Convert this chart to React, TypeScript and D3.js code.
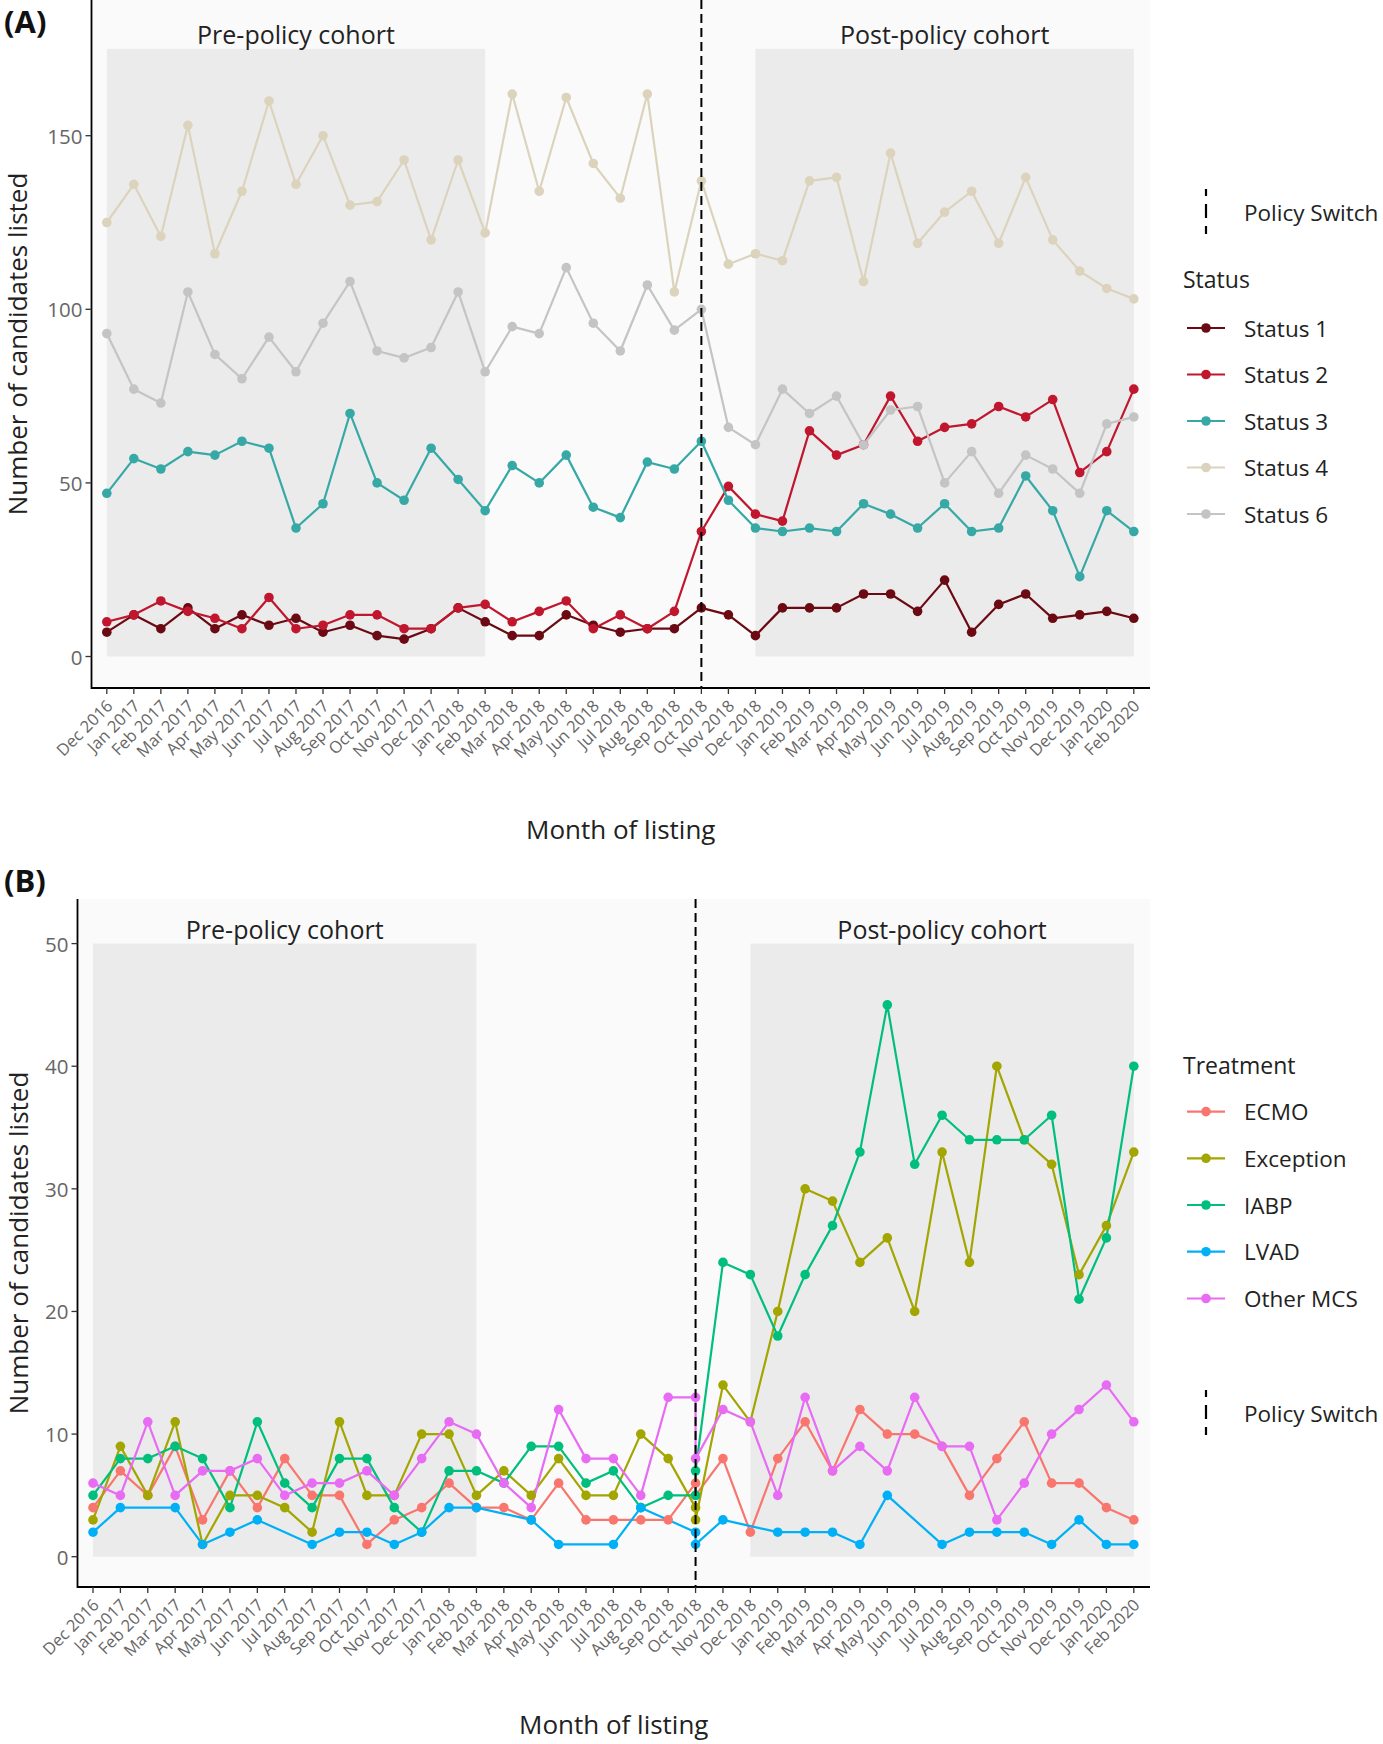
import React from "react";
import * as d3 from "d3";

// ---------------- DATA ----------------
const months = [
  "Dec 2016",
  "Jan 2017", "Feb 2017", "Mar 2017", "Apr 2017", "May 2017", "Jun 2017",
  "Jul 2017", "Aug 2017", "Sep 2017", "Oct 2017", "Nov 2017", "Dec 2017",
  "Jan 2018", "Feb 2018", "Mar 2018", "Apr 2018", "May 2018", "Jun 2018",
  "Jul 2018", "Aug 2018", "Sep 2018", "Oct 2018", "Nov 2018", "Dec 2018",
  "Jan 2019", "Feb 2019", "Mar 2019", "Apr 2019", "May 2019", "Jun 2019",
  "Jul 2019", "Aug 2019", "Sep 2019", "Oct 2019", "Nov 2019", "Dec 2019",
  "Jan 2020", "Feb 2020",
];
const policyMonth = "Oct 2018";
const preCohort = ["Dec 2016", "Feb 2018"];
const postCohort = ["Dec 2018", "Feb 2020"];

// Panel A (status)
const statusNames = ["Status 1", "Status 2", "Status 3", "Status 4", "Status 6"];
const statusColors = ["#6b0a12", "#c0172e", "#36a9a6", "#dcd3bd", "#c4c4c4"];
const status1 = [7, 12, 8, 14, 8, 12, 9, 11, 7, 9, 6, 5, 8, 14, 10, 6, 6, 12, 9, 7, 8, 8, 14, 12, 6, 14, 14, 14, 18, 18, 13, 22, 7, 15, 18, 11, 12, 13, 11];
const status2 = [10, 12, 16, 13, 11, 8, 17, 8, 9, 12, 12, 8, 8, 14, 15, 10, 13, 16, 8, 12, 8, 13, 36, 49, 41, 39, 65, 58, 61, 75, 62, 66, 67, 72, 69, 74, 53, 59, 77];
const status3 = [47, 57, 54, 59, 58, 62, 60, 37, 44, 70, 50, 45, 60, 51, 42, 55, 50, 58, 43, 40, 56, 54, 62, 45, 37, 36, 37, 36, 44, 41, 37, 44, 36, 37, 52, 42, 23, 42, 36];
const status4 = [125, 136, 121, 153, 116, 134, 160, 136, 150, 130, 131, 143, 120, 143, 122, 162, 134, 161, 142, 132, 162, 105, 137, 113, 116, 114, 137, 138, 108, 145, 119, 128, 134, 119, 138, 120, 111, 106, 103];
const status6 = [93, 77, 73, 105, 87, 80, 92, 82, 96, 108, 88, 86, 89, 105, 82, 95, 93, 112, 96, 88, 107, 94, 100, 66, 61, 77, 70, 75, 61, 71, 72, 50, 59, 47, 58, 54, 47, 67, 69];
const statusTicks = [0, 50, 100, 150];
const statusCohortTop = 175;

// Panel B (treatment) — pre cohort: Dec 2016..Oct 2018, post cohort: Oct 2018..Feb 2020
const treatNames = ["ECMO", "Exception", "IABP", "LVAD", "Other MCS"];
const treatColors = ["#F8766D", "#A3A500", "#00BF7D", "#00B0F6", "#E76BF3"];
const ecmoPre = [4, 7, 5, 9, 3, 7, 4, 8, 5, 5, 1, 3, 4, 6, 4, 4, 3, 6, 3, 3, 3, 3, 6];
const ecmoPost = [5, 8, 2, 8, 11, 7, 12, 10, 10, 9, 5, 8, 11, 6, 6, 4, 3];
const exceptionPre = [3, 9, 5, 11, 1, 5, 5, 4, 2, 11, 5, 5, 10, 10, 5, 7, 5, 8, 5, 5, 10, 8, 4];
const exceptionPost = [3, 14, 11, 20, 30, 29, 24, 26, 20, 33, 24, 40, 34, 32, 23, 27, 33];
const iabpPre = [5, 8, 8, 9, 8, 4, 11, 6, 4, 8, 8, 4, 2, 7, 7, 6, 9, 9, 6, 7, 4, 5, 5];
const iabpPost = [7, 24, 23, 18, 23, 27, 33, 45, 32, 36, 34, 34, 34, 36, 21, 26, 40];
const lvadPre = [2, 4, null, 4, 1, 2, 3, null, 1, 2, 2, 1, 2, 4, 4, null, 3, 1, null, 1, 4, null, 2];
const lvadPost = [1, 3, null, 2, 2, 2, 1, 5, null, 1, 2, 2, 2, 1, 3, 1, 1];
const otherPre = [6, 5, 11, 5, 7, 7, 8, 5, 6, 6, 7, 5, 8, 11, 10, 6, 4, 12, 8, 8, 5, 13, 13];
const otherPost = [8, 12, 11, 5, 13, 7, 9, 7, 13, 9, 9, 3, 6, 10, 12, 14, 11];
const treatTicks = [0, 10, 20, 30, 40, 50];
const treatCohortTop = 50;

// ---------------- HELPERS ----------------
type Pt = { i: number; v: number };
type Series = { name: string; color: string; pts: Pt[] };

function toPts(vals: (number | null)[], start: number): Pt[] {
  const out: Pt[] = [];
  vals.forEach((v, k) => {
    if (v !== null && v !== undefined) out.push({ i: start + k, v });
  });
  return out;
}

const FONT = "'Open Sans', 'Noto Sans', sans-serif";
const policyIdx = months.indexOf(policyMonth);

const statusSeries: Series[] = [status1, status2, status3, status4, status6].map((arr, k) => ({
  name: statusNames[k],
  color: statusColors[k],
  pts: toPts(arr, 0),
}));

const treatSeries: Series[] = [
  [ecmoPre, ecmoPost],
  [exceptionPre, exceptionPost],
  [iabpPre, iabpPost],
  [lvadPre, lvadPost],
  [otherPre, otherPost],
].map(([pre, post], k) => ({
  name: treatNames[k],
  color: treatColors[k],
  pts: [...toPts(pre, 0), ...toPts(post, policyIdx)],
}));

type Cfg = {
  left: number; right: number; top: number; bottom: number;
  xFirst: number; xLast: number;
  yZeroPx: number; yRefVal: number; yRefPx: number;
  ticks: number[]; cohortTop: number;
  series: Series[];
  tag: string; tagY: number;
  titleX: number;
  legendTitle: string; legendTitleY: number; legendItemYs: number[];
  policyY: number;
  xTitleY: number;
};

function Legend({ cfg }: { cfg: Cfg }) {
  const lx0 = 1187, lx1 = 1225, lc = 1206, tx = 1244;
  return (
    <g fontFamily={FONT}>
      <line x1={lc} x2={lc} y1={cfg.policyY - 23} y2={cfg.policyY + 22} stroke="#000" strokeWidth={2.2}
        strokeDasharray="7,8,14,8,8" />
      <text x={tx} y={cfg.policyY} dominantBaseline="central" fontSize={22.5} fill="#222">Policy Switch</text>
      <text x={1183} y={cfg.legendTitleY} dominantBaseline="central" fontSize={23} fill="#222">{cfg.legendTitle}</text>
      {cfg.series.map((s, k) => (
        <g key={s.name}>
          <line x1={lx0} x2={lx1} y1={cfg.legendItemYs[k]} y2={cfg.legendItemYs[k]} stroke={s.color} strokeWidth={2.2} />
          <circle cx={lc} cy={cfg.legendItemYs[k]} r={4.8} fill={s.color} />
          <text x={tx} y={cfg.legendItemYs[k]} dominantBaseline="central" fontSize={22.5} fill="#222">{s.name}</text>
        </g>
      ))}
    </g>
  );
}

function Panel({ cfg }: { cfg: Cfg }) {
  const x = d3.scalePoint<string>().domain(months).range([cfg.xFirst, cfg.xLast]);
  const y = d3.scaleLinear().domain([0, cfg.yRefVal]).range([cfg.yZeroPx, cfg.yRefPx]);
  const line = d3.line<Pt>().x((p) => x(months[p.i]) as number).y((p) => y(p.v));
  const px = (m: string) => x(m) as number;
  const preX0 = px(preCohort[0]), preX1 = px(preCohort[1]);
  const postX0 = px(postCohort[0]), postX1 = px(postCohort[1]);
  const rTop = y(cfg.cohortTop), rBot = y(0);
  const midY = (cfg.top + cfg.bottom) / 2;
  const midX = (cfg.left + cfg.right) / 2;
  return (
    <g>
      <rect x={cfg.left} y={cfg.top} width={cfg.right - cfg.left} height={cfg.bottom - cfg.top} fill="#fafafa" />
      <rect x={preX0} y={rTop} width={preX1 - preX0} height={rBot - rTop} fill="#ebebeb" />
      <rect x={postX0} y={rTop} width={postX1 - postX0} height={rBot - rTop} fill="#ebebeb" />
      <text x={(preX0 + preX1) / 2} y={rTop - 5} textAnchor="middle" fontFamily={FONT} fontSize={25} fill="#222">Pre-policy cohort</text>
      <text x={(postX0 + postX1) / 2} y={rTop - 5} textAnchor="middle" fontFamily={FONT} fontSize={25} fill="#222">Post-policy cohort</text>
      {cfg.series.map((s) => (
        <path key={s.name} d={line(s.pts) as string} fill="none" stroke={s.color} strokeWidth={2.2} strokeLinejoin="round" />
      ))}
      {cfg.series.map((s) => (
        <g key={s.name + "p"} fill={s.color}>
          {s.pts.map((p, k) => (
            <circle key={k} cx={px(months[p.i])} cy={y(p.v)} r={4.8} />
          ))}
        </g>
      ))}
      <line x1={px(policyMonth)} x2={px(policyMonth)} y1={cfg.top} y2={cfg.bottom} stroke="#000" strokeWidth={2} strokeDasharray="9,5" />
      {/* axes */}
      <line x1={cfg.left} x2={cfg.left} y1={cfg.top} y2={cfg.bottom + 0.9} stroke="#000" strokeWidth={1.8} />
      <line x1={cfg.left} x2={cfg.right} y1={cfg.bottom} y2={cfg.bottom} stroke="#000" strokeWidth={1.8} />
      {cfg.ticks.map((t) => (
        <g key={t}>
          <line x1={cfg.left - 6} x2={cfg.left} y1={y(t)} y2={y(t)} stroke="#333" strokeWidth={1.3} />
          <text x={cfg.left - 9} y={y(t)} textAnchor="end" dominantBaseline="central" fontFamily={FONT} fontSize={20.5} fill="#666">{t}</text>
        </g>
      ))}
      {months.map((m) => (
        <g key={m}>
          <line x1={px(m)} x2={px(m)} y1={cfg.bottom} y2={cfg.bottom + 6} stroke="#333" strokeWidth={1.3} />
          <text transform={`translate(${px(m) + 7},${cfg.bottom + 19}) rotate(-45)`} textAnchor="end" fontFamily={FONT} fontSize={16.5} fill="#666">{m}</text>
        </g>
      ))}
      <text transform={`translate(${cfg.titleX},${midY}) rotate(-90)`} textAnchor="middle" dominantBaseline="central" fontFamily={FONT} fontSize={26} fill="#222">Number of candidates listed</text>
      <text x={midX} y={cfg.xTitleY} textAnchor="middle" dominantBaseline="central" fontFamily={FONT} fontSize={26} fill="#222">Month of listing</text>
      <text x={4} y={cfg.tagY} fontFamily={FONT} fontWeight={700} fontSize={31} fill="#111">{cfg.tag}</text>
      <Legend cfg={cfg} />
    </g>
  );
}

const cfgA: Cfg = {
  left: 91.5, right: 1150, top: 0, bottom: 688,
  xFirst: 106.8, xLast: 1133.8,
  yZeroPx: 656.5, yRefVal: 150, yRefPx: 135.7,
  ticks: statusTicks, cohortTop: statusCohortTop,
  series: statusSeries,
  tag: "(A)", tagY: 33,
  titleX: 17,
  legendTitle: "Status", legendTitleY: 279, legendItemYs: [328, 374.5, 421, 467.5, 514],
  policyY: 212,
  xTitleY: 829,
};

const cfgB: Cfg = {
  left: 77.5, right: 1150, top: 899, bottom: 1587,
  xFirst: 93, xLast: 1133.8,
  yZeroPx: 1556.7, yRefVal: 50, yRefPx: 943.6,
  ticks: treatTicks, cohortTop: treatCohortTop,
  series: treatSeries,
  tag: "(B)", tagY: 892,
  titleX: 18,
  legendTitle: "Treatment", legendTitleY: 1065, legendItemYs: [1111.6, 1158.3, 1205, 1251.7, 1298.5],
  policyY: 1413,
  xTitleY: 1724,
};

export default function App() {
  return (
    <div style={{ position: "absolute", left: 0, top: 0 }}>
      <svg width={1383} height={1744} viewBox="0 0 1383 1744" style={{ display: "block", background: "#fff" }}>
        <Panel cfg={cfgA} />
        <Panel cfg={cfgB} />
      </svg>
    </div>
  );
}
